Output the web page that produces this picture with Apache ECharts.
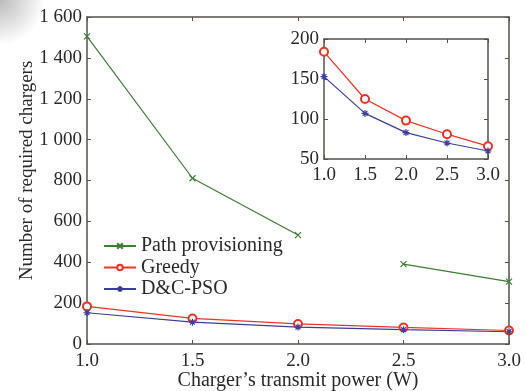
<!DOCTYPE html>
<html><head><meta charset="utf-8">
<script src="https://cdn.jsdelivr.net/npm/echarts@6/dist/echarts.min.js"></script>
<style>html,body{margin:0;padding:0;background:#fff}#c{width:526px;height:391px}</style>
</head><body><div id="c"></div>
<script>
const power = [1.0, 1.5, 2.0, 2.5, 3.0];
const pathProvisioning = [1505, 811, 533, 391, 305];
const greedy = [184, 125, 98, 81, 66];
const dcpso = [153, 107, 83, 70, 60];
const yTicksMain = [0, 200, 400, 600, 800, 1000, 1200, 1400, 1600];
const yTicksInset = [50, 100, 150, 200];

const FONT = '"Liberation Serif","Times New Roman",serif';
const AX = '#55504a';
const TXT = '#2a2a2a';
const GREEN = '#3d7d36', RED = '#ee3324', BLUE = '#3b3f98';
const crossSym = 'path://M0,0L10,10M10,0L0,10';
const starSym = 'path://M5,0L5,10M0,5L10,5M1.5,1.5L8.5,8.5M8.5,1.5L1.5,8.5';

// path provisioning: line broken between 2.0 and 2.5
const ppData = [];
power.forEach((p, i) => {
  if (p === 2.5) ppData.push([2.25, null]);
  ppData.push([p, pathProvisioning[i]]);
});
const pairs = arr => power.map((p, i) => [p, arr[i]]);

const fmtMain = v => v >= 1000 ? (Math.floor(v/1000) + ' ' + String(v%1000).padStart(3,'0')) : String(v);

function xAx(gi, show, margin, pos) {
  return {
    type: 'value', gridIndex: gi, min: 1, max: 3, interval: 0.5, position: pos,
    axisLine: {show: true, onZero: false, lineStyle: {color: AX, width: 1.5}},
    axisTick: {show: true, inside: true, length: 4, lineStyle: {color: AX}},
    axisLabel: {show: show, color: TXT, fontFamily: FONT, fontSize: 19, margin: margin,
      formatter: v => v.toFixed(1)},
    splitLine: {show: false}
  };
}
function yAx(gi, show, min, max, interval, fmt, pos) {
  return {
    type: 'value', gridIndex: gi, min, max, interval, position: pos,
    axisLine: {show: true, onZero: false, lineStyle: {color: AX, width: 1.5}},
    axisTick: {show: true, inside: true, length: 4, lineStyle: {color: AX}},
    axisLabel: {show: show, color: TXT, fontFamily: FONT, fontSize: 19, margin: 5, formatter: fmt},
    splitLine: {show: false}
  };
}

const mainX = xAx(0, true, 8, 'bottom');
mainX.name = 'Charger\u2019s transmit power (W)';
mainX.nameLocation = 'middle';
mainX.nameGap = 27;
mainX.nameMoveOverlap = false;
mainX.nameTextStyle = {color: TXT, fontFamily: FONT, fontSize: 20};
const mainY = yAx(0, true, 0, 1600, 200, fmtMain, 'left');
mainY.name = 'Number of required chargers';
mainY.nameLocation = 'middle';
mainY.nameGap = 50;
mainY.nameMoveOverlap = false;
mainY.nameTextStyle = {color: TXT, fontFamily: FONT, fontSize: 19, padding: [0, 0, 0, 20]};

const chart = echarts.init(document.getElementById('c'), null, {renderer: 'canvas'});
chart.setOption({
  backgroundColor: '#fff',
  animation: false,
  graphic: [{
    type: 'circle', left: -45, top: -45, z: -10, silent: true,
    shape: {r: 45},
    style: {fill: new echarts.graphic.RadialGradient(0.5, 0.5, 0.5, [
      {offset: 0, color: 'rgba(170,170,170,0.8)'},
      {offset: 1, color: 'rgba(170,170,170,0)'}
    ])}
  }],
  grid: [
    {left: 87, right: 17, top: 17, bottom: 47, show: false, containLabel: false, outerBoundsMode: 'none'},
    {left: 324, right: 38, top: 39, bottom: 232, show: true, backgroundColor: '#fff', borderWidth: 0, containLabel: false, outerBoundsMode: 'none'}
  ],
  xAxis: [
    mainX,
    xAx(0, false, 9, 'top'),
    xAx(1, true, 7, 'bottom'),
    xAx(1, false, 7, 'top')
  ],
  yAxis: [
    mainY,
    yAx(0, false, 0, 1600, 200, fmtMain, 'right'),
    yAx(1, true, 50, 200, 50, v => String(v), 'left'),
    yAx(1, false, 50, 200, 50, v => String(v), 'right')
  ],
  legend: {
    orient: 'vertical', left: 98, top: 231, itemGap: 1.5,
    itemWidth: 32, itemHeight: 7,
    textStyle: {color: TXT, fontFamily: FONT, fontSize: 20, lineHeight: 20},
    data: ['Path provisioning', 'Greedy', 'D&C-PSO']
  },
  series: [
    {name: 'Path provisioning', type: 'line', xAxisIndex: 0, yAxisIndex: 0, data: ppData,
     connectNulls: false, symbol: crossSym, symbolSize: 6,
     lineStyle: {color: GREEN, width: 1.2},
     itemStyle: {color: GREEN, borderColor: GREEN, borderWidth: 1.2}},
    {name: 'Greedy', type: 'line', xAxisIndex: 0, yAxisIndex: 0, data: pairs(greedy),
     symbol: 'emptyCircle', symbolSize: 8,
     lineStyle: {color: RED, width: 1.2},
     itemStyle: {color: RED, borderColor: RED, borderWidth: 1.2}},
    {name: 'D&C-PSO', type: 'line', xAxisIndex: 0, yAxisIndex: 0, data: pairs(dcpso),
     symbol: starSym, symbolSize: 7,
     lineStyle: {color: BLUE, width: 1.2},
     itemStyle: {color: BLUE, borderColor: BLUE, borderWidth: 1.2}},
    {name: 'Greedy', type: 'line', xAxisIndex: 2, yAxisIndex: 2, data: pairs(greedy),
     symbol: 'emptyCircle', symbolSize: 8,
     lineStyle: {color: RED, width: 1.2},
     itemStyle: {color: RED, borderColor: RED, borderWidth: 1.2}},
    {name: 'D&C-PSO', type: 'line', xAxisIndex: 2, yAxisIndex: 2, data: pairs(dcpso),
     symbol: starSym, symbolSize: 7,
     lineStyle: {color: BLUE, width: 1.2},
     itemStyle: {color: BLUE, borderColor: BLUE, borderWidth: 1.2}}
  ]
});
</script></body></html>
